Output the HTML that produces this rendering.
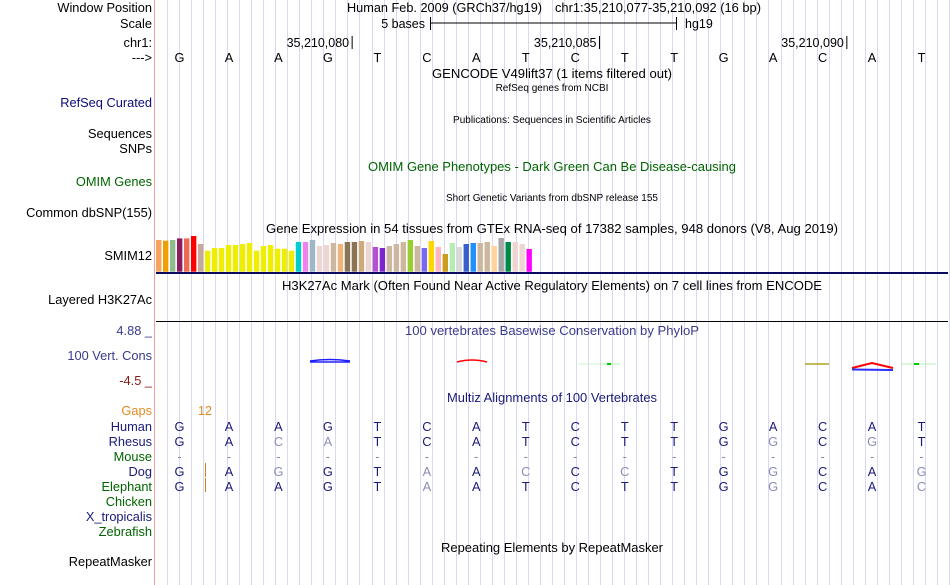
<!DOCTYPE html>
<html><head><meta charset="utf-8"><style>
html,body{margin:0;padding:0;background:#fff;}
svg{display:block;font-family:"Liberation Sans",sans-serif;}
</style></head><body>
<svg id="g" width="950" height="585" viewBox="0 0 950 585" xmlns="http://www.w3.org/2000/svg">
<rect width="950" height="585" fill="#fff"/>
<g id="grid"></g>
<line x1="154.5" y1="0" x2="154.5" y2="585" stroke="#f4a0a0" stroke-width="1"/>

<g font-size="12.8" text-anchor="end" fill="#000">
<text x="152" y="12">Window Position</text>
<text x="152" y="28">Scale</text>
<text x="152" y="47">chr1:</text>
<text x="152" y="62">---&gt;</text>
<text x="152" y="107" fill="#0c0c78">RefSeq Curated</text>
<text x="152" y="138">Sequences</text>
<text x="152" y="153">SNPs</text>
<text x="152" y="186" fill="#006400">OMIM Genes</text>
<text x="152" y="217">Common dbSNP(155)</text>
<text x="152" y="260">SMIM12</text>
<text x="152" y="304">Layered H3K27Ac</text>
<text x="152" y="335" fill="#3a3a8c">4.88 _</text>
<text x="152" y="360" fill="#3a3a8c">100 Vert. Cons</text>
<text x="152" y="385" fill="#8b1a1a">-4.5 _</text>
<text x="152" y="415" fill="#e08a1e">Gaps</text>
<text x="152" y="566">RepeatMasker</text>
</g>

<g font-size="12.5" text-anchor="middle">
<text x="347" y="12" text-anchor="start" textLength="195" lengthAdjust="spacingAndGlyphs">Human Feb. 2009 (GRCh37/hg19)</text>
<text x="555" y="12" text-anchor="start" textLength="206" lengthAdjust="spacingAndGlyphs">chr1:35,210,077-35,210,092 (16 bp)</text>
<text x="552" y="78" textLength="240" lengthAdjust="spacingAndGlyphs">GENCODE V49lift37 (1 items filtered out)</text>
<text x="552" y="91" font-size="10">RefSeq genes from NCBI</text>
<text x="552" y="123" font-size="10">Publications: Sequences in Scientific Articles</text>
<text x="552" y="171" fill="#006400" textLength="368" lengthAdjust="spacingAndGlyphs">OMIM Gene Phenotypes - Dark Green Can Be Disease-causing</text>
<text x="552" y="201" font-size="10">Short Genetic Variants from dbSNP release 155</text>
<text x="552" y="233" textLength="572" lengthAdjust="spacingAndGlyphs">Gene Expression in 54 tissues from GTEx RNA-seq of 17382 samples, 948 donors (V8, Aug 2019)</text>
<text x="552" y="290" textLength="540" lengthAdjust="spacingAndGlyphs">H3K27Ac Mark (Often Found Near Active Regulatory Elements) on 7 cell lines from ENCODE</text>
<text x="552" y="335" fill="#3a3a8c" textLength="294" lengthAdjust="spacingAndGlyphs">100 vertebrates Basewise Conservation by PhyloP</text>
<text x="552" y="402" fill="#1a1a7a" textLength="210" lengthAdjust="spacingAndGlyphs">Multiz Alignments of 100 Vertebrates</text>
<text x="552" y="552" textLength="222" lengthAdjust="spacingAndGlyphs">Repeating Elements by RepeatMasker</text>
</g>

<g font-size="12.5">
<text x="425" y="28" text-anchor="end">5 bases</text>
<line x1="430" y1="23" x2="677" y2="23" stroke="#000"/>
<line x1="430.5" y1="17" x2="430.5" y2="30" stroke="#000"/>
<line x1="676.5" y1="17" x2="676.5" y2="30" stroke="#000"/>
<text x="685" y="28">hg19</text>
</g>
<g id="ruler" font-size="12.5"></g>
<g id="bases" font-size="12.8" text-anchor="middle"></g>
<g id="gtex"></g>
<line x1="156" y1="273" x2="948" y2="273" stroke="#0a0a60" stroke-width="2"/>
<line x1="156" y1="321.5" x2="948" y2="321.5" stroke="#000" stroke-width="1"/>
<g id="cons">
<path d="M310 361 Q330 358 350 361 M310 362 L350 362" stroke="#2020ff" stroke-width="1.5" fill="none"/>
<path d="M457 362 Q472 358 487 362" stroke="#f00" stroke-width="1.5" fill="none"/>
<line x1="597" y1="364" x2="620" y2="364" stroke="#b0f0b0"/><rect x="607" y="363" width="4" height="2" fill="#0c0"/>
<line x1="578" y1="364" x2="600" y2="364" stroke="#d0f0d0"/>
<line x1="805" y1="364" x2="829" y2="364" stroke="#b0a020" stroke-width="1.5"/>
<path d="M852 368 L872 363 L893 368" stroke="#f00" stroke-width="2" fill="none"/>
<line x1="852" y1="369.5" x2="893" y2="370" stroke="#3030ff" stroke-width="2"/>
<line x1="901" y1="364" x2="936" y2="364" stroke="#b0f0b0"/><rect x="914" y="363" width="5" height="2" fill="#0c0"/>
</g>
<text x="205" y="415" font-size="12.5" text-anchor="middle" fill="#e08a1e">12</text>
<line x1="205.5" y1="463" x2="205.5" y2="477" stroke="#d08020"/>
<line x1="205.5" y1="478" x2="205.5" y2="492" stroke="#d08020"/>
<g id="align" font-size="12.8"></g>
</svg>
<script>
const NS="http://www.w3.org/2000/svg";
const refBases=["G","A","A","G","T","C","A","T","C","T","T","G","A","C","A","T"];
const rulerLabels=["35,210,080","35,210,085","35,210,090"];
const rulerBaseIndex=[3.5,8.5,13.5];
const gtexValues=[31.7,31,31.7,33.3,33.3,35.7,27.7,21,23.7,23.7,26.7,26.7,27.7,28.7,21,25.7,26.7,23,23,21,29.7,29.7,31.7,25.7,26.7,28.7,27.7,29.7,29.7,30.7,29.7,24.7,23.7,25.7,27.7,29.7,31.7,25.7,23.7,30.7,24.7,17.7,28.7,24.7,27.7,28.7,28.7,29.7,25.7,33.7,29.7,29.7,27.7,22.7];
const gtexColors=["#f4a460","#f0a000","#8fbc8f","#8b1c62","#ee6a50","#ff0000","#c8a898","#eeee00","#eeee00","#eeee00","#eeee00","#eeee00","#eeee00","#eeee00","#eeee00","#eeee00","#eeee00","#eeee00","#eeee00","#eeee00","#00cdcd","#ee82ee","#9ab8c8","#eed5d2","#eed5d2","#cdb79e","#eeb47a","#8b7355","#8b7355","#cdaa7d","#eed5d2","#b452cd","#7d26cd","#cdb79e","#cdb79e","#cdb79e","#9acd32","#cdb79e","#7b68ee","#ffd700","#ffb6c1","#cd9b1d","#b4eeb4","#d9d9d9","#3a5fcd","#1e90ff","#cdb79e","#cdb79e","#ffd39b","#a6a6a6","#008b45","#eed5d2","#eed5d2","#ff00ff"];
const species=["Human","Rhesus","Mouse","Dog","Elephant","Chicken","X_tropicalis","Zebrafish"];
const speciesColors=["#1a1a7a","#1a1a7a","#006400","#1a1a7a","#006400","#006400","#1a1a7a","#006400"];
const alignSeqs=["GAAGTCATCTTGACAT","GACATCATCTTGGCGT","----------------","GAGGTAACCCTGGCAG","GAAGTAATCTTGGCAC","","",""];

function xBase(i){return 179.5+i*49.47;}
const grid=document.getElementById('grid');
for(let x=167;x<950;x+=12.03){
  const l=document.createElementNS(NS,'line');
  
  
  const xx=Math.round(x)+0.5;
  l.setAttribute('x1',xx);l.setAttribute('x2',xx);l.setAttribute('y1',0);l.setAttribute('y2',585);
  l.setAttribute('stroke','#d8d8f4');grid.appendChild(l);
}
const ruler=document.getElementById('ruler');
rulerLabels.forEach((lab,k)=>{
  const x=xBase(rulerBaseIndex[k])-0.5;
  const t=document.createElementNS(NS,'text');
  
  
  t.setAttribute('x',x-3);t.setAttribute('y',47);t.setAttribute('text-anchor','end');t.textContent=lab;ruler.appendChild(t);
  const l=document.createElementNS(NS,'line');
  
  
  l.setAttribute('x1',x);l.setAttribute('x2',x);l.setAttribute('y1',36);l.setAttribute('y2',49);l.setAttribute('stroke','#000');ruler.appendChild(l);
});
const bases=document.getElementById('bases');
refBases.forEach((b,i)=>{
  const t=document.createElementNS(NS,'text');
  
  
  t.setAttribute('x',xBase(i));t.setAttribute('y',62);t.textContent=b;bases.appendChild(t);
});
const gtex=document.getElementById('gtex');
const gBase=271.7;
gtexValues.forEach((v,i)=>{
  const r=document.createElementNS(NS,'rect');
  
  
  r.setAttribute('x',156+i*6.99);r.setAttribute('width',5.4);
  r.setAttribute('y',gBase-v);r.setAttribute('height',v);
  r.setAttribute('fill',gtexColors[i]);gtex.appendChild(r);
});
const align=document.getElementById('align');
species.forEach((sp,r)=>{
  const y=431+r*15;
  const lab=document.createElementNS(NS,'text');
  
  
  lab.setAttribute('x',152);lab.setAttribute('y',y);lab.setAttribute('text-anchor','end');
  lab.setAttribute('fill',speciesColors[r]);lab.textContent=sp;align.appendChild(lab);
  const seq=alignSeqs[r];
  for(let i=0;i<seq.length;i++){
    const c=seq[i];
    const t=document.createElementNS(NS,'text');
    
    
    t.setAttribute('x',xBase(i));t.setAttribute('y',y);t.setAttribute('text-anchor','middle');
    let col='#1a1a7a';
    if(c==='-'){col='#8888aa';}
    else if(r>0 && c!==refBases[i]){col='#8c8cb8';}
    t.setAttribute('fill',col);t.textContent=c;align.appendChild(t);
  }
});
</script>
</body></html>
